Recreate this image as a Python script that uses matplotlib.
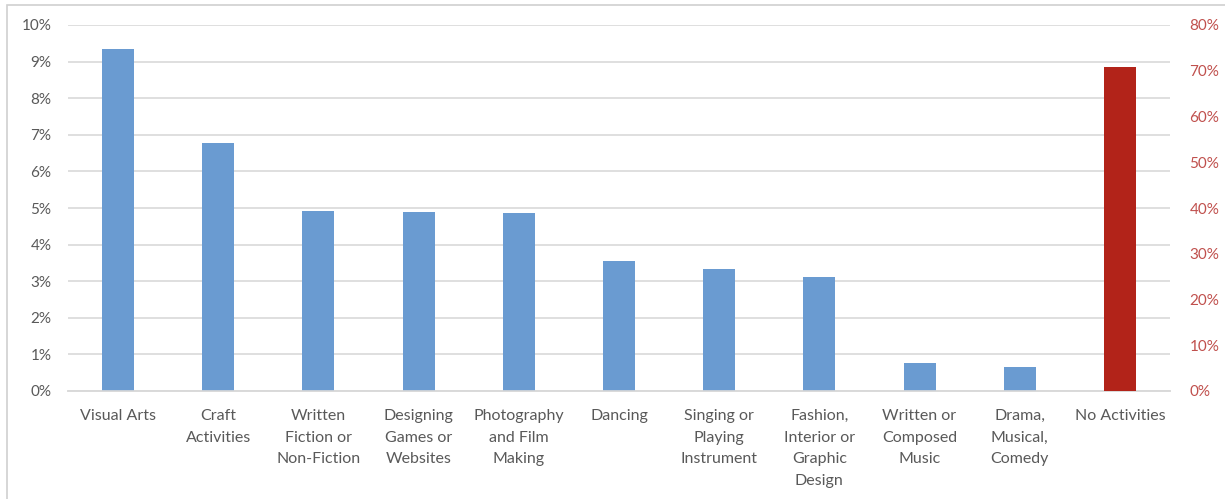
"""Creative activity participation bar chart with a secondary axis."""

import matplotlib

matplotlib.use("Agg")

import matplotlib.pyplot as plt
from matplotlib.patches import Rectangle
from matplotlib.ticker import FuncFormatter, MultipleLocator

categories = [
    "Visual Arts",
    "Craft\nActivities",
    "Written\nFiction or\nNon-Fiction",
    "Designing\nGames or\nWebsites",
    "Photography\nand Film\nMaking",
    "Dancing",
    "Singing or\nPlaying\nInstrument",
    "Fashion,\nInterior or\nGraphic\nDesign",
    "Written or\nComposed\nMusic",
    "Drama,\nMusical,\nComedy",
    "No Activities",
]
activity_share = [9.34, 6.78, 4.92, 4.89, 4.86, 3.55, 3.33, 3.11, 0.77, 0.66]
no_activity_share = 70.8

BLUE = "#6A9BD1"
RED = "#B22319"
GRID = "#D9D9D9"
TEXT = "#595959"
RIGHT_TEXT = "#C0504D"

plt.rcParams["font.family"] = ["Lato", "DejaVu Sans"]

fig = plt.figure(figsize=(12.25, 4.99), dpi=100)
fig.patches.append(
    Rectangle((7 / 1225, -0.1), 1.2, 1 - 5 / 499 + 0.1,
              transform=fig.transFigure, fill=False,
              edgecolor="#D0D0D0", linewidth=1.2)
)

ax = fig.add_axes([68 / 1225, 108 / 499, 1102 / 1225, 366 / 499])
ax2 = ax.twinx()

x = list(range(len(categories)))
ax.bar(x[:-1], activity_share, width=0.32, color=BLUE, zorder=3)
ax2.bar(x[-1], no_activity_share, width=0.32, color=RED, zorder=3)

ax.set_xlim(-0.5, len(categories) - 0.5)
ax.set_ylim(0, 10)
ax2.set_ylim(0, 80)
ax.yaxis.set_major_locator(MultipleLocator(1))
ax2.yaxis.set_major_locator(MultipleLocator(10))
ax.yaxis.set_major_formatter(FuncFormatter(lambda v, _: f"{v:.0f}%"))
ax2.yaxis.set_major_formatter(FuncFormatter(lambda v, _: f"{v:.0f}%"))

ax.grid(axis="y", color=GRID, linewidth=1.2, zorder=0)
ax.set_axisbelow(True)
for a in (ax, ax2):
    for side in ("top", "right", "left"):
        a.spines[side].set_visible(False)
    a.spines["bottom"].set_color(GRID)
    a.spines["bottom"].set_linewidth(1.2)
    a.tick_params(length=0)

ax.set_xticks(x)
ax.set_xticklabels(categories, fontsize=11.5, color=TEXT, linespacing=1.7)
ax.tick_params(axis="x", pad=13)
ax.tick_params(axis="y", labelsize=11, labelcolor=TEXT, pad=12)
ax2.tick_params(axis="y", labelsize=11, labelcolor=RIGHT_TEXT, pad=14)

fig.savefig("out.png", dpi=100)
plt.close(fig)
